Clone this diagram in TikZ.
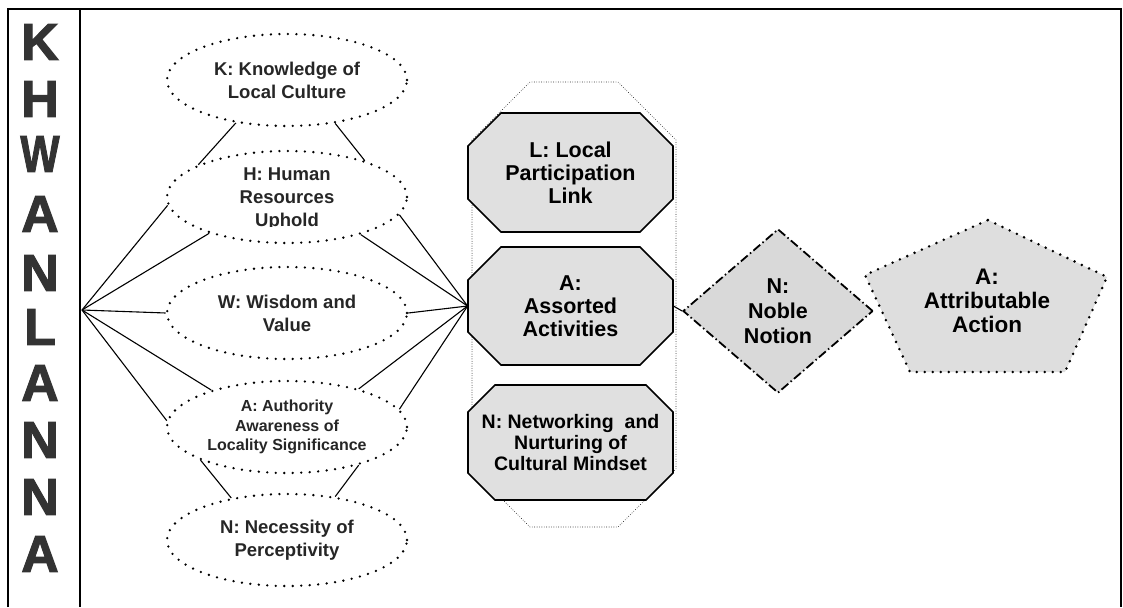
\documentclass[tikz,border=0pt]{standalone}
\usepackage{graphicx}
\usepackage{fontspec}
\setmainfont{Liberation Sans}
\newfontfamily\letterfont[FakeBold=2]{Liberation Sans}
\usetikzlibrary{shapes.geometric}

\begin{document}
\begin{tikzpicture}[x=1pt, y=-1pt, thick,
    letter node/.style={inner sep=0, text=black!80, font=\letterfont\bfseries\fontsize{52}{52}\selectfont},
    ellipse text/.style={inner sep=0, align=center, text=black!85, font=\bfseries\fontsize{18.5}{23}\selectfont},
    ellipse node/.style={ellipse text, ellipse, draw, fill=white, line width=2.6pt, dash pattern=on 0pt off 8.5pt, line cap=round, minimum width=240pt, minimum height=92pt},
    octagon line/.style={draw, fill=black!12, line width=1.6pt},
    octagon text/.style={minimum width=205pt, inner sep=0, align=center, font=\bfseries\fontsize{21.5}{23}\selectfont},
    column line/.style={draw, line width=0.9pt, dash pattern=on 0pt off 2.4pt, line cap=round},
    diamond node/.style={diamond, draw, fill=black!15, line width=1.8pt, dash pattern=on 9pt off 3pt on 1.5pt off 3pt, minimum width=190pt, minimum height=164pt, inner sep=0, align=center, font=\bfseries\fontsize{21.5}{25}\selectfont},
    pentagon line/.style={draw, fill=black!13, line width=2.8pt, dash pattern=on 0pt off 8pt, line cap=round},
    pentagon text/.style={inner sep=0, align=center, font=\bfseries\fontsize{22.5}{24}\selectfont},
    link/.style={line width=1.1pt}]
    \useasboundingbox (0,0) rectangle (1123,607);

    % frame and letter column
    \draw[line width=1.8pt] (8,607) -- (8,9) -- (1121,9) -- (1121,607);
    \draw[line width=1.6pt] (80,9) -- (80,607);

    \node[letter node] (c1) at (40,42) {K};
    \node[letter node] (c2) at (40,99) {H};
    \node[letter node] (c3) at (40,154) {\scalebox{.8}[1]{W}};
    \node[letter node] (c4) at (40,214) {A};
    \node[letter node] (c5) at (40,273) {N};
    \node[letter node] (c6) at (40,327) {L};
    \node[letter node] (c7) at (40,383) {A};
    \node[letter node] (c8) at (40,440) {N};
    \node[letter node] (c9) at (40,497) {N};
    \node[letter node] (c10) at (40,554) {A};

    % ellipses
    \node[ellipse node] (1) at (287,80) {K: Knowledge of\\Local Culture};
    \node[ellipse node] (2) at (287,197) {};
    \begin{scope}
        \clip (167,150) rectangle (407,226);
        \node[ellipse text] (2t) at (287,199) {H: Human\\Resources\\Uphold};
    \end{scope}
    \node[ellipse node] (3) at (287,313) {W: Wisdom and\\Value};
    \node[ellipse node, font=\bfseries\fontsize{16}{19.5}\selectfont] (4) at (287,427) {A: Authority\\Awareness of\\Locality Significance};
    \node[ellipse node] (5) at (287,540) {N: Necessity of\\Perceptivity};

    % middle column, octagons drawn by hand
    \path[column line] (472,140) -- ++(58,-58) -- ++(88,0) -- ++(58,58) -- ++(0,329) -- ++(-58,58) -- ++(-88,0) -- ++(-58,-58) -- cycle;

    \path[octagon line] (468,146) -- ++(33,-33) -- ++(139,0) -- ++(33,33) -- ++(0,53) -- ++(-33,33) -- ++(-139,0) -- ++(-33,-33) -- cycle;
    \node[octagon text, minimum height=119pt] (6) at (570.5,172.5) {L: Local\\Participation\\Link};

    \path[octagon line] (468,280) -- ++(33,-33) -- ++(139,0) -- ++(33,33) -- ++(0,52) -- ++(-33,33) -- ++(-139,0) -- ++(-33,-33) -- cycle;
    \node[octagon text, minimum height=118pt] (7) at (570.5,306) {A:\\Assorted\\Activities};

    \path[octagon line] (468,412) -- ++(27,-27) -- ++(151,0) -- ++(27,27) -- ++(0,61) -- ++(-27,27) -- ++(-151,0) -- ++(-27,-27) -- cycle;
    \node[octagon text, minimum height=115pt, font=\bfseries\fontsize{19.5}{21}\selectfont] (8) at (570.5,442.5) {N: Networking\ \ and\\Nurturing of\\Cultural Mindset};

    \node[diamond node] (9) at (778,311) {N:\\Noble\\Notion};

    \path[pentagon line] (988,220) -- (1107,277) -- (1065,372) -- (910,372) -- (865,275) -- cycle;
    \node[pentagon text] (10) at (987,301) {A:\\Attributable\\Action};

    \coordinate (hub) at (82,310);

    \path[link] (hub) edge (2.184);
    \path[link] (hub) edge (2.205);
    \path[link] (hub) edge (3.180);
    \path[link] (hub) edge (4.154);
    \path[link] (hub) edge (4.177);

    \path[link] (7.west) edge (2.351);
    \path[link] (7.west) edge (2.333);
    \path[link] (7.west) edge (3.0);
    \path[link] (7.west) edge (4.28);
    \path[link] (7.west) edge (4.9);

    \path[link] (1.220) edge (2.160);
    \path[link] (1.318) edge (2.25);
    \path[link] (4.201) edge (5.143);
    \path[link] (4.332) edge (5.42);

    \path[link] (7.east) edge (9.west);

\end{tikzpicture}
\end{document}
